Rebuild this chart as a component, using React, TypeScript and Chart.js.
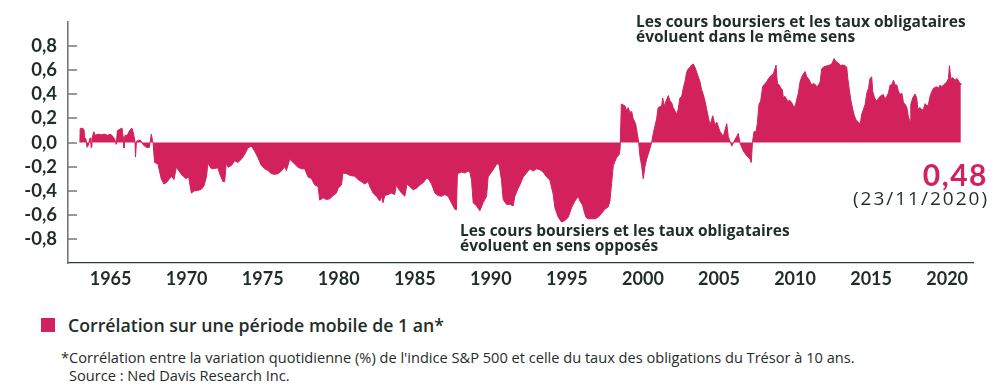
import React, { useEffect, useRef } from "react";
import { Chart, registerables } from "chart.js";

Chart.register(...registerables);

// ---- Data ----
const years: number[] = [
  1962.98, 1963.0, 1963.1, 1963.25, 1963.3, 1963.38, 1963.45, 1963.55, 1963.62, 1963.68,
  1963.72, 1963.77, 1963.9, 1964.0, 1964.2, 1964.4, 1964.6, 1964.8, 1965.0, 1965.15,
  1965.26, 1965.37, 1965.45, 1965.6, 1965.75, 1965.82, 1965.88, 1965.95, 1966.1, 1966.25,
  1966.4, 1966.5, 1966.6, 1966.64, 1966.7, 1966.85, 1967.0, 1967.15, 1967.35, 1967.55,
  1967.68, 1967.75, 1967.8, 1967.89, 1968.11, 1968.33, 1968.5, 1968.66, 1968.88, 1968.99,
  1969.17, 1969.32, 1969.54, 1969.76, 1969.98, 1970.13, 1970.31, 1970.53, 1970.74, 1970.97,
  1971.14, 1971.3, 1971.4, 1971.63, 1971.84, 1972.06, 1972.17, 1972.39, 1972.5, 1972.61,
  1972.72, 1972.94, 1973.16, 1973.37, 1973.6, 1973.82, 1974.03, 1974.26, 1974.47, 1974.69,
  1974.91, 1975.13, 1975.35, 1975.57, 1975.79, 1976.0, 1976.23, 1976.45, 1976.56, 1976.78,
  1977.1, 1977.32, 1977.55, 1977.76, 1977.98, 1978.2, 1978.42, 1978.64, 1978.75, 1978.97,
  1979.19, 1979.41, 1979.63, 1979.85, 1979.96, 1980.18, 1980.28, 1980.51, 1980.72, 1981.05,
  1981.27, 1981.49, 1981.71, 1981.93, 1982.04, 1982.26, 1982.48, 1982.7, 1982.81, 1982.91,
  1983.03, 1983.24, 1983.47, 1983.68, 1983.8, 1983.9, 1984.13, 1984.34, 1984.49, 1984.67,
  1984.89, 1985.11, 1985.33, 1985.55, 1985.77, 1985.88, 1986.1, 1986.32, 1986.53, 1986.76,
  1986.97, 1987.19, 1987.41, 1987.63, 1987.74, 1987.8, 1988.07, 1988.29, 1988.51, 1988.62,
  1988.73, 1988.84, 1989.06, 1989.28, 1989.49, 1989.72, 1989.82, 1990.05, 1990.26, 1990.41,
  1990.55, 1990.7, 1990.81, 1991.03, 1991.25, 1991.47, 1991.58, 1991.8, 1991.91, 1992.13,
  1992.35, 1992.57, 1992.78, 1993.01, 1993.22, 1993.44, 1993.66, 1993.88, 1994.1, 1994.21,
  1994.43, 1994.65, 1994.87, 1995.09, 1995.31, 1995.53, 1995.74, 1995.86, 1996.03, 1996.12,
  1996.25, 1996.4, 1996.63, 1996.84, 1997.06, 1997.28, 1997.5, 1997.72, 1997.83, 1997.94,
  1998.05, 1998.27, 1998.44, 1998.5, 1998.58, 1998.82, 1998.93, 1999.03, 1999.14, 1999.26,
  1999.36, 1999.52, 1999.63, 1999.72, 1999.8, 1999.91, 2000.02, 2000.13, 2000.24, 2000.46,
  2000.57, 2000.68, 2000.9, 2001.0, 2001.23, 2001.3, 2001.4, 2001.56, 2001.67, 2001.78,
  2001.89, 2001.99, 2002.1, 2002.22, 2002.32, 2002.43, 2002.55, 2002.65, 2002.76, 2002.88,
  2002.98, 2003.09, 2003.2, 2003.31, 2003.42, 2003.53, 2003.64, 2003.75, 2003.86, 2003.97,
  2004.08, 2004.19, 2004.3, 2004.41, 2004.59, 2004.74, 2004.85, 2005.07, 2005.28, 2005.51,
  2005.61, 2005.84, 2005.99, 2006.16, 2006.27, 2006.38, 2006.6, 2006.82, 2007.04, 2007.12,
  2007.2, 2007.3, 2007.43, 2007.52, 2007.63, 2007.74, 2007.87, 2008.03, 2008.14, 2008.25,
  2008.36, 2008.47, 2008.58, 2008.68, 2008.75, 2008.84, 2008.97, 2009.06, 2009.17, 2009.23,
  2009.34, 2009.45, 2009.56, 2009.67, 2009.78, 2009.89, 2010.0, 2010.11, 2010.22, 2010.33,
  2010.44, 2010.55, 2010.66, 2010.77, 2010.88, 2010.99, 2011.1, 2011.21, 2011.32, 2011.43,
  2011.54, 2011.65, 2011.75, 2011.86, 2011.97, 2012.19, 2012.41, 2012.57, 2012.7, 2012.85,
  2013.0, 2013.14, 2013.29, 2013.4, 2013.47, 2013.57, 2013.68, 2013.79, 2013.9, 2014.01,
  2014.17, 2014.28, 2014.39, 2014.5, 2014.61, 2014.72, 2014.83, 2014.93, 2015.04, 2015.11,
  2015.2, 2015.33, 2015.42, 2015.59, 2015.81, 2015.92, 2016.03, 2016.14, 2016.25, 2016.36,
  2016.47, 2016.58, 2016.69, 2016.8, 2016.91, 2017.02, 2017.13, 2017.24, 2017.35, 2017.46,
  2017.57, 2017.61, 2017.74, 2017.89, 2018.0, 2018.07, 2018.22, 2018.33, 2018.44, 2018.55,
  2018.66, 2018.77, 2018.88, 2018.99, 2019.1, 2019.32, 2019.43, 2019.54, 2019.65, 2019.76,
  2019.87, 2019.98, 2020.09, 2020.15, 2020.24, 2020.37, 2020.53, 2020.64, 2020.75, 2020.86,
  2020.9,
];

const correlation: number[] = [
  0, 0.115, 0.12, 0.11, 0.04, 0.03, -0.04, -0.02, 0.03, 0.04,
  -0.04, 0.03, 0.09, 0.06, 0.07, 0.065, 0.07, 0.06, 0.07, 0.05,
  0.03, -0.015, 0.1, 0.11, 0.12, 0.05, -0.045, 0.06, 0.06, 0.1,
  0.12, 0.08, 0.01, -0.12, 0.01, 0.02, 0.015, -0.02, -0.04, -0.04,
  0.07, 0.02, -0.01, -0.165, -0.178, -0.3, -0.344, -0.333, -0.3, -0.28,
  -0.307, -0.205, -0.245, -0.28, -0.3, -0.285, -0.419, -0.4, -0.398, -0.387,
  -0.36, -0.285, -0.173, -0.218, -0.215, -0.21, -0.259, -0.325, -0.325, -0.165,
  -0.205, -0.191, -0.151, -0.165, -0.138, -0.098, -0.044, -0.03, -0.071, -0.125,
  -0.191, -0.218, -0.232, -0.259, -0.264, -0.259, -0.237, -0.2, -0.232, -0.138,
  -0.178, -0.205, -0.218, -0.218, -0.285, -0.298, -0.352, -0.365, -0.478, -0.459,
  -0.473, -0.467, -0.44, -0.419, -0.379, -0.352, -0.253, -0.258, -0.272, -0.28,
  -0.307, -0.325, -0.344, -0.325, -0.365, -0.419, -0.446, -0.486, -0.446, -0.5,
  -0.44, -0.432, -0.419, -0.432, -0.344, -0.379, -0.419, -0.446, -0.344, -0.365,
  -0.392, -0.379, -0.352, -0.333, -0.298, -0.298, -0.344, -0.419, -0.44, -0.446,
  -0.432, -0.446, -0.5, -0.553, -0.558, -0.26, -0.245, -0.253, -0.237, -0.245,
  -0.312, -0.5, -0.526, -0.566, -0.5, -0.446, -0.285, -0.245, -0.205, -0.173,
  -0.191, -0.312, -0.473, -0.513, -0.513, -0.526, -0.446, -0.379, -0.352, -0.285,
  -0.253, -0.218, -0.237, -0.218, -0.225, -0.245, -0.285, -0.312, -0.43, -0.54,
  -0.62, -0.66, -0.647, -0.62, -0.54, -0.486, -0.446, -0.486, -0.52, -0.566,
  -0.62, -0.633, -0.633, -0.633, -0.62, -0.588, -0.553, -0.534, -0.486, -0.339,
  -0.191, -0.124, -0.098, -0.05, 0.32, 0.304, 0.263, 0.29, 0.25, 0.258,
  0.197, 0.157, 0.076, 0, -0.11, -0.19, -0.3, -0.2, -0.14, -0.05,
  0, 0.076, 0.197, 0.29, 0.304, 0.37, 0.304, 0.357, 0.39, 0.344,
  0.33, 0.29, 0.263, 0.237, 0.277, 0.37, 0.384, 0.45, 0.505, 0.585,
  0.612, 0.625, 0.644, 0.652, 0.625, 0.585, 0.545, 0.505, 0.438, 0.398,
  0.344, 0.277, 0.21, 0.143, 0.223, 0.143, 0.17, 0.09, 0.05, 0.157,
  0.05, -0.03, 0.01, 0.05, 0.076, -0.004, -0.07, -0.11, -0.138, -0.165,
  0.0, 0.09, 0.09, 0.157, 0.317, 0.344, 0.464, 0.491, 0.504, 0.532,
  0.545, 0.563, 0.571, 0.612, 0.644, 0.491, 0.478, 0.451, 0.438, 0.371,
  0.384, 0.357, 0.344, 0.35, 0.331, 0.304, 0.296, 0.357, 0.411, 0.504,
  0.545, 0.571, 0.59, 0.545, 0.532, 0.504, 0.478, 0.491, 0.483, 0.464,
  0.478, 0.504, 0.612, 0.625, 0.633, 0.639, 0.652, 0.697, 0.671, 0.66,
  0.639, 0.644, 0.639, 0.625, 0.532, 0.438, 0.344, 0.277, 0.223, 0.188,
  0.17, 0.151, 0.237, 0.277, 0.317, 0.411, 0.451, 0.532, 0.545, 0.424,
  0.384, 0.344, 0.357, 0.384, 0.398, 0.357, 0.384, 0.411, 0.478, 0.478,
  0.518, 0.478, 0.478, 0.424, 0.398, 0.411, 0.331, 0.317, 0.291, 0.21,
  0.17, 0.317, 0.371, 0.403, 0.371, 0.277, 0.291, 0.269, 0.277, 0.323,
  0.304, 0.317, 0.384, 0.424, 0.451, 0.464, 0.451, 0.478, 0.464, 0.478,
  0.491, 0.504, 0.532, 0.639, 0.532, 0.537, 0.518, 0.532, 0.51, 0.491,
  0.48,
];

const yTickValues: number[] = [-0.8, -0.6, -0.4, -0.2, 0, 0.2, 0.4, 0.6, 0.8];
const xTickValues: number[] = [1965, 1970, 1975, 1980, 1985, 1990, 1995, 2000, 2005, 2010, 2015, 2020];
const xRange: number[] = [1962.2, 2021.7];
const yRange: number[] = [-1, 1];

const seriesLabel = "Corrélation sur une période mobile de 1 an*";
const topNote = ["Les cours boursiers et les taux obligataires", "évoluent dans le même sens"];
const bottomNote = ["Les cours boursiers et les taux obligataires", "évoluent en sens opposés"];
const latestValue = "0,48";
const latestDate = "(23/11/2020)";
const footnote1 =
  "*Corrélation entre la variation quotidienne (%) de l'indice S&P 500 et celle du taux des obligations du Trésor à 10 ans.";
const footnote2 = "Source : Ned Davis Research Inc.";

const RED = "#D3215B";
const TEXT = "#1f2d29";
const AXIS_GRAY = "#737a76";
const FONT = "Lato, 'Open Sans', sans-serif";
const TEXT_FONT = "'Open Sans', Lato, sans-serif";

const innerTicks = {
  id: "innerTicks",
  afterDraw(chart: any) {
    const { ctx, chartArea, scales } = chart;
    const y = scales.y;
    ctx.save();
    ctx.strokeStyle = AXIS_GRAY;
    ctx.lineWidth = 1.5;
    y.ticks.forEach((t: any) => {
      const py = Math.round(y.getPixelForValue(t.value));
      ctx.beginPath();
      ctx.moveTo(chartArea.left, py);
      ctx.lineTo(chartArea.left + 9, py);
      ctx.stroke();
    });
    ctx.restore();
  },
};

export default function App() {
  const canvasRef = useRef<HTMLCanvasElement | null>(null);

  useEffect(() => {
    if (!canvasRef.current) return;
    const chart = new Chart(canvasRef.current, {
      type: "line",
      data: {
        datasets: [
          {
            label: seriesLabel,
            data: years.map((x, i) => ({ x, y: correlation[i] })),
            fill: "origin",
            backgroundColor: RED,
            borderColor: RED,
            borderWidth: 1,
            pointRadius: 0,
            tension: 0,
          },
        ],
      },
      options: {
        animation: false,
        responsive: false,
        devicePixelRatio: 1,
        layout: { padding: { top: 16, right: 27, left: 0, bottom: 0 } },
        plugins: { legend: { display: false }, tooltip: { enabled: false } },
        scales: {
          x: {
            type: "linear",
            min: xRange[0],
            max: xRange[1],
            afterBuildTicks: (scale: any) => {
              scale.ticks = xTickValues.map((v) => ({ value: v }));
            },
            afterFit: (scale: any) => {
              scale.height = 37;
            },
            grid: { display: false, drawTicks: false },
            border: { display: true, color: "#2b3a35", width: 1.2 },
            ticks: {
              autoSkip: false,
              maxRotation: 0,
              padding: 5,
              color: TEXT,
              font: { family: FONT, size: 18, weight: "bold" },
              callback: (v: any) => String(v),
            },
          },
          y: {
            type: "linear",
            min: yRange[0],
            max: yRange[1],
            afterBuildTicks: (scale: any) => {
              scale.ticks = yTickValues.map((v) => ({ value: v }));
            },
            afterFit: (scale: any) => {
              scale.width = 68;
            },
            grid: { display: false, drawTicks: false },
            border: { display: true, color: AXIS_GRAY, width: 1.6 },
            ticks: {
              padding: 11,
              color: TEXT,
              font: { family: FONT, size: 18.5, weight: "bold" },
              callback: (v: any) => Number(v).toFixed(1).replace(".", ","),
            },
          },
        },
      },
      plugins: [innerTicks],
    } as any);
    return () => chart.destroy();
  }, []);

  const noteStyle: React.CSSProperties = {
    position: "absolute",
    fontFamily: TEXT_FONT,
    fontWeight: 700,
    fontSize: 15.5,
    lineHeight: "15px",
    color: TEXT,
    whiteSpace: "nowrap",
  };

  return (
    <div style={{ position: "absolute", left: 0, top: 0, width: 1000, height: 388, background: "#fff", overflow: "hidden" }}>
      <canvas ref={canvasRef} width={1000} height={300} style={{ position: "absolute", left: 0, top: 0, width: 1000, height: 300 }} />
      <div style={{ ...noteStyle, left: 636, top: 13.5 }}>
        <div>{topNote[0]}</div>
        <div>{topNote[1]}</div>
      </div>
      <div style={{ ...noteStyle, left: 460, top: 223 }}>
        <div>{bottomNote[0]}</div>
        <div>{bottomNote[1]}</div>
      </div>
      <div
        style={{
          position: "absolute",
          right: 12,
          top: 158.5,
          fontFamily: FONT,
          fontWeight: 700,
          fontSize: 30,
          lineHeight: "30px",
          letterSpacing: 1.5,
          color: RED,
          whiteSpace: "nowrap",
        }}
      >
        {latestValue}
      </div>
      <div
        style={{
          position: "absolute",
          right: 11,
          top: 189,
          fontFamily: TEXT_FONT,
          fontWeight: 400,
          fontSize: 19,
          lineHeight: "19px",
          letterSpacing: 2,
          color: TEXT,
          whiteSpace: "nowrap",
        }}
      >
        {latestDate}
      </div>
      <div style={{ position: "absolute", left: 41, top: 318, width: 14, height: 14, background: RED }} />
      <div
        style={{
          position: "absolute",
          left: 68,
          top: 315.5,
          fontFamily: TEXT_FONT,
          fontWeight: 600,
          fontSize: 17.7,
          lineHeight: "18px",
          color: TEXT,
          whiteSpace: "nowrap",
        }}
      >
        {seriesLabel}
      </div>
      <div
        style={{
          position: "absolute",
          left: 61,
          top: 350,
          fontFamily: TEXT_FONT,
          fontWeight: 400,
          fontSize: 14.6,
          lineHeight: "15px",
          color: TEXT,
          whiteSpace: "nowrap",
        }}
      >
        {footnote1}
      </div>
      <div
        style={{
          position: "absolute",
          left: 69,
          top: 368,
          fontFamily: TEXT_FONT,
          fontWeight: 400,
          fontSize: 14.6,
          lineHeight: "15px",
          color: TEXT,
          whiteSpace: "nowrap",
        }}
      >
        {footnote2}
      </div>
    </div>
  );
}
